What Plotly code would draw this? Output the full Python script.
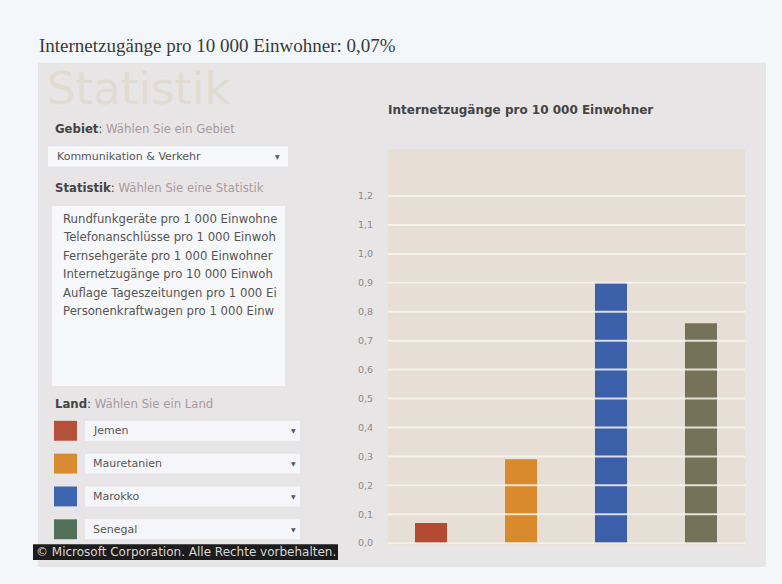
import plotly.graph_objects as go

W, H = 782, 584

# ---------------- data ----------------
countries = ["Jemen", "Mauretanien", "Marokko", "Senegal"]
values = [0.07, 0.29, 0.90, 0.76]
bar_colors = ["#b54a33", "#d98a2c", "#3b5fa9", "#74735a"]
swatch_colors = ["#b5503a", "#d98b32", "#3d65b0", "#52705a"]

tick_vals = [0.0, 0.1, 0.2, 0.3, 0.4, 0.5, 0.6, 0.7, 0.8, 0.9, 1.0, 1.1, 1.2]
tick_text = ["0,0", "0,1", "0,2", "0,3", "0,4", "0,5", "0,6", "0,7", "0,8", "0,9", "1,0", "1,1", "1,2"]

statistik_items = [
    "Rundfunkgeräte pro 1 000 Einwohne",
    "Telefonanschlüsse pro 1 000 Einwoh",
    "Fernsehgeräte pro 1 000 Einwohner",
    "Internetzugänge pro 10 000 Einwoh",
    "Auflage Tageszeitungen pro 1 000 Ei",
    "Personenkraftwagen pro 1 000 Einw",
]

page_title = "Internetzugänge pro 10 000 Einwohner: 0,07%"
chart_title = "Internetzugänge pro 10 000 Einwohner"
gebiet_value = "Kommunikation & Verkehr"
footer_text = "© Microsoft Corporation. Alle Rechte vorbehalten."


def X(px):
    return px / W


def Y(py):
    return 1 - py / H


UI_FONT = "DejaVu Sans"
UI_SIZE = 11.7

fig = go.Figure()
fig.add_trace(go.Bar(
    x=countries, y=values, marker=dict(color=bar_colors, line=dict(width=0)),
    width=0.356, showlegend=False, hoverinfo="x+y",
))

shapes = []
ann = []

# main panel
shapes.append(dict(type="rect", xref="paper", yref="paper", layer="below",
                   x0=X(38), x1=X(766), y0=Y(570), y1=Y(63),
                   fillcolor="#e8e5e7", line=dict(width=0)))
# plot background (beige)
shapes.append(dict(type="rect", xref="x domain", yref="y domain", layer="below",
                   x0=0, x1=1, y0=0, y1=1, fillcolor="#e7dfd5", line=dict(width=0)))
# gridlines over bars
for v in tick_vals:
    shapes.append(dict(type="line", xref="x domain", yref="y", layer="above",
                       x0=0, x1=1, y0=v, y1=v,
                       line=dict(color="rgba(247,244,238,0.85)", width=2)))

# Gebiet dropdown
shapes.append(dict(type="rect", xref="paper", yref="paper", layer="below",
                   x0=X(48), x1=X(288), y0=Y(167), y1=Y(147),
                   fillcolor="#f7f8fa", line=dict(width=0)))
# Statistik list box
shapes.append(dict(type="rect", xref="paper", yref="paper", layer="below",
                   x0=X(52), x1=X(285), y0=Y(388), y1=Y(207),
                   fillcolor="#f7f8fa", line=dict(width=0)))

# country rows
row_y = [433, 466, 499, 532]
for i, (c, sc) in enumerate(zip(countries, swatch_colors)):
    yc = row_y[i]
    shapes.append(dict(type="rect", xref="paper", yref="paper", layer="below",
                       x0=X(54), x1=X(77), y0=Y(yc + 10), y1=Y(yc - 10),
                       fillcolor=sc, line=dict(width=0)))
    shapes.append(dict(type="rect", xref="paper", yref="paper", layer="below",
                       x0=X(85), x1=X(300), y0=Y(yc + 10), y1=Y(yc - 10),
                       fillcolor="#f5f6f9", line=dict(width=0)))
    ann.append(dict(x=X(91), y=Y(yc), xref="paper", yref="paper", text=c,
                    showarrow=False, xanchor="left", yanchor="middle",
                    font=dict(family=UI_FONT, size=11, color="#555")))
    ann.append(dict(x=X(293), y=Y(yc), xref="paper", yref="paper", text="▼",
                    showarrow=False, xanchor="center", yanchor="middle",
                    font=dict(family=UI_FONT, size=6, color="#555")))

# footer bar
shapes.append(dict(type="rect", xref="paper", yref="paper", layer="above",
                   x0=X(33), x1=X(338), y0=Y(563), y1=Y(547),
                   fillcolor="#1c1c1c", line=dict(width=0)))
ann.append(dict(x=X(34), y=Y(555), xref="paper", yref="paper", text=footer_text,
                showarrow=False, xanchor="left", yanchor="middle",
                font=dict(family=UI_FONT, size=12, color="#d8d8d8")))

# page title
ann.append(dict(x=X(37), y=Y(46), xref="paper", yref="paper", text=page_title,
                showarrow=False, xanchor="left", yanchor="middle",
                font=dict(family="Liberation Serif", size=19, color="#3a3a3a")))
# watermark
ann.append(dict(x=X(45), y=Y(89), xref="paper", yref="paper", text="Statistik",
                showarrow=False, xanchor="left", yanchor="middle",
                font=dict(family="DejaVu Sans", size=45, color="#e2dbd1")))
# Gebiet label
ann.append(dict(x=X(53), y=Y(130), xref="paper", yref="paper",
                text="<b>Gebiet</b>: <span style='color:#a89aa0'>Wählen Sie ein Gebiet</span>",
                showarrow=False, xanchor="left", yanchor="middle",
                font=dict(family=UI_FONT, size=UI_SIZE, color="#444")))
ann.append(dict(x=X(55), y=Y(157), xref="paper", yref="paper", text=gebiet_value,
                showarrow=False, xanchor="left", yanchor="middle",
                font=dict(family=UI_FONT, size=11, color="#555")))
ann.append(dict(x=X(277), y=Y(157), xref="paper", yref="paper", text="▼",
                showarrow=False, xanchor="center", yanchor="middle",
                font=dict(family=UI_FONT, size=6, color="#555")))
# Statistik label
ann.append(dict(x=X(53), y=Y(189), xref="paper", yref="paper",
                text="<b>Statistik</b>: <span style='color:#a89aa0'>Wählen Sie eine Statistik</span>",
                showarrow=False, xanchor="left", yanchor="middle",
                font=dict(family=UI_FONT, size=UI_SIZE, color="#444")))
for i, item in enumerate(statistik_items):
    ann.append(dict(x=X(61), y=Y(220 + i * 18.6), xref="paper", yref="paper", text=item,
                    showarrow=False, xanchor="left", yanchor="middle",
                    font=dict(family=UI_FONT, size=UI_SIZE, color="#555")))
# Land label
ann.append(dict(x=X(53), y=Y(406), xref="paper", yref="paper",
                text="<b>Land</b>: <span style='color:#a89aa0'>Wählen Sie ein Land</span>",
                showarrow=False, xanchor="left", yanchor="middle",
                font=dict(family=UI_FONT, size=UI_SIZE, color="#444")))
# chart title
ann.append(dict(x=X(386), y=Y(111), xref="paper", yref="paper",
                text="<b>" + chart_title + "</b>",
                showarrow=False, xanchor="left", yanchor="middle",
                font=dict(family=UI_FONT, size=12, color="#444")))

fig.update_layout(
    width=W, height=H,
    margin=dict(l=0, r=0, t=0, b=0),
    paper_bgcolor="#f3f7fa",
    plot_bgcolor="rgba(0,0,0,0)",
    shapes=shapes, annotations=ann,
    xaxis=dict(domain=[X(388), X(745)], range=[-0.478, 3.489],
               showticklabels=False, showgrid=False, zeroline=False, ticks=""),
    yaxis=dict(domain=[Y(548), Y(150)], range=[-0.007, 1.362],
               tickvals=tick_vals, ticktext=tick_text, showgrid=False, zeroline=False,
               ticks="outside", ticklen=12, tickcolor="rgba(0,0,0,0)",
               tickfont=dict(family=UI_FONT, size=9.5, color="#8a8a8a")),
    bargap=0.6,
)

fig.write_html(
    "out.html",
    config={"displayModeBar": False},
    post_script="document.body.style.margin='0';document.body.style.background='#f3f7fa';",
)
